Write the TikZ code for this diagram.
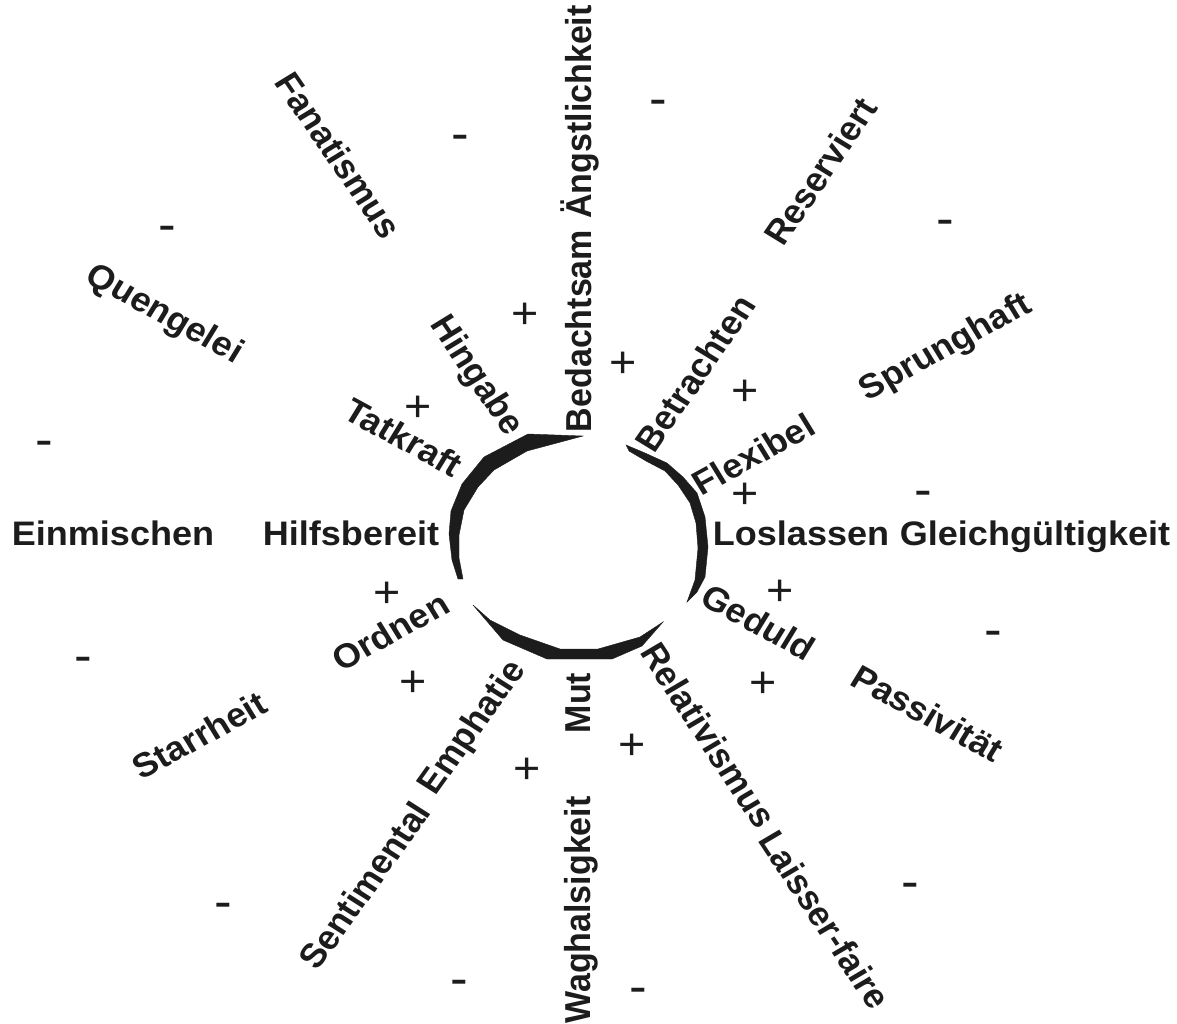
\documentclass[tikz,border=0pt]{standalone}
\usepackage{fontspec}
\setmainfont{Liberation Sans}
\definecolor{ink}{HTML}{1C1C1C}
\begin{document}
\begin{tikzpicture}[x=1pt,y=-1pt,
  lab/.style={font=\fontsize{34}{40}\selectfont\bfseries, inner sep=0pt, text height=24pt, text depth=6pt, text=ink},
  pl/.style={font=\fontsize{44}{44}\selectfont, inner sep=0pt, text=ink, anchor=base, yshift=-15pt},
  mi/.style={font=\fontsize{50}{50}\selectfont, inner sep=0pt, text=ink, anchor=base, yshift=-13.5pt},
  arcpart/.style={fill=ink, draw=ink, line width=0.4pt, line join=miter}]
\useasboundingbox[fill=white] (0,0) rectangle (1177,1023);

% ring segments
\fill[arcpart] (583,436) -- (528,434) -- (484,457) -- (462,484) -- (451,511) -- (449,534) -- (452,560) -- (458,579)
  -- (463,579) -- (459,558) -- (459,535) -- (464,510) -- (478,487) -- (494,470) -- (527,451) -- cycle;
\fill[arcpart] (626,445) -- (645,453) -- (667,463) -- (683,477) -- (697,493) -- (705,517) -- (708,547) -- (705,577) -- (697,592) -- (687,602)
  -- (695,580) -- (698,548) -- (696,523) -- (690,503) -- (678,485) -- (665,471) -- (646,461) -- (629,451) -- cycle;
\fill[arcpart] (473,605) -- (503,640) -- (547,659) -- (612,659) -- (642,646) -- (663,622)
  -- (640,637) -- (598,649) -- (560,649) -- (520,635) -- (490,620) -- cycle;

\begin{scope}[x=0.9434pt, xscale=1.06, transform shape]
% inner labels
\node[lab] (hilfs) at (351,536) {Hilfsbereit};
\node[lab] (los) at (801,536) {Loslassen};
\node[lab,rotate=90] (bed) at (582,331) {Bedachtsam};
\node[lab,rotate=90] (mut) at (581,703) {Mut};
\node[lab,rotate=57] (betr) at (698,375) {Betrachten};
\node[lab,rotate=30] (flex) at (755,457) {Flexibel};
\node[lab,rotate=-30] (ged) at (757,625) {Geduld};
\node[lab,rotate=-58] (rel) at (706,737) {Relativismus};
\node[lab,rotate=56] (emph) at (473,728) {Emphatie};
\node[lab,rotate=30] (ord) at (392,634) {Ordnen};
\node[lab,rotate=-30] (tat) at (402,440) {Tatkraft};
\node[lab,rotate=-57] (hing) at (476,376) {Hingabe};

% outer labels
\node[lab,rotate=90] (angst) at (582,112) {Ängstlichkeit};
\node[lab,rotate=57] (res) at (823,173) {Reserviert};
\node[lab,rotate=30] (sprung) at (946,348) {Sprunghaft};
\node[lab] (gleich) at (1035,536) {Gleichgültigkeit};
\node[lab,rotate=-30] (pass) at (926,716) {Passivität};
\node[lab,rotate=-58] (laiss) at (822,921) {Laisser-faire};
\node[lab,rotate=90] (wag) at (581,910) {Waghalsigkeit};
\node[lab,rotate=56] (sent) at (367,887) {Sentimental};
\node[lab,rotate=30] (starr) at (201,738) {Starrheit};
\node[lab] (einm) at (113,536) {Einmischen};
\node[lab,rotate=-30] (queng) at (164,315) {Quengelei};
\node[lab,rotate=-57] (fana) at (336,157) {Fanatismus};

% plus signs
\node[pl] (p1) at (525,313) {+};
\node[pl] (p2) at (623,362) {+};
\node[pl] (p3) at (418,406) {+};
\node[pl] (p4) at (745,390) {+};
\node[pl] (p5) at (745,493) {+};
\node[pl] (p6) at (387,592) {+};
\node[pl] (p7) at (780,590) {+};
\node[pl] (p8) at (413,681) {+};
\node[pl] (p9) at (763,682) {+};
\node[pl] (p10) at (632,744) {+};
\node[pl] (p11) at (527,768) {+};

% minus signs
\node[mi] (m1) at (658,102) {-};
\node[mi] (m2) at (460,137) {-};
\node[mi] (m3) at (167,228) {-};
\node[mi] (m4) at (945,222) {-};
\node[mi] (m5) at (44,443) {-};
\node[mi] (m6) at (923,493) {-};
\node[mi] (m7) at (993,633) {-};
\node[mi] (m8) at (83,659) {-};
\node[mi] (m9) at (223,905) {-};
\node[mi] (m10) at (910,885) {-};
\node[mi] (m11) at (459,982) {-};
\node[mi] (m12) at (638,990) {-};
\end{scope}
\end{tikzpicture}
\end{document}
